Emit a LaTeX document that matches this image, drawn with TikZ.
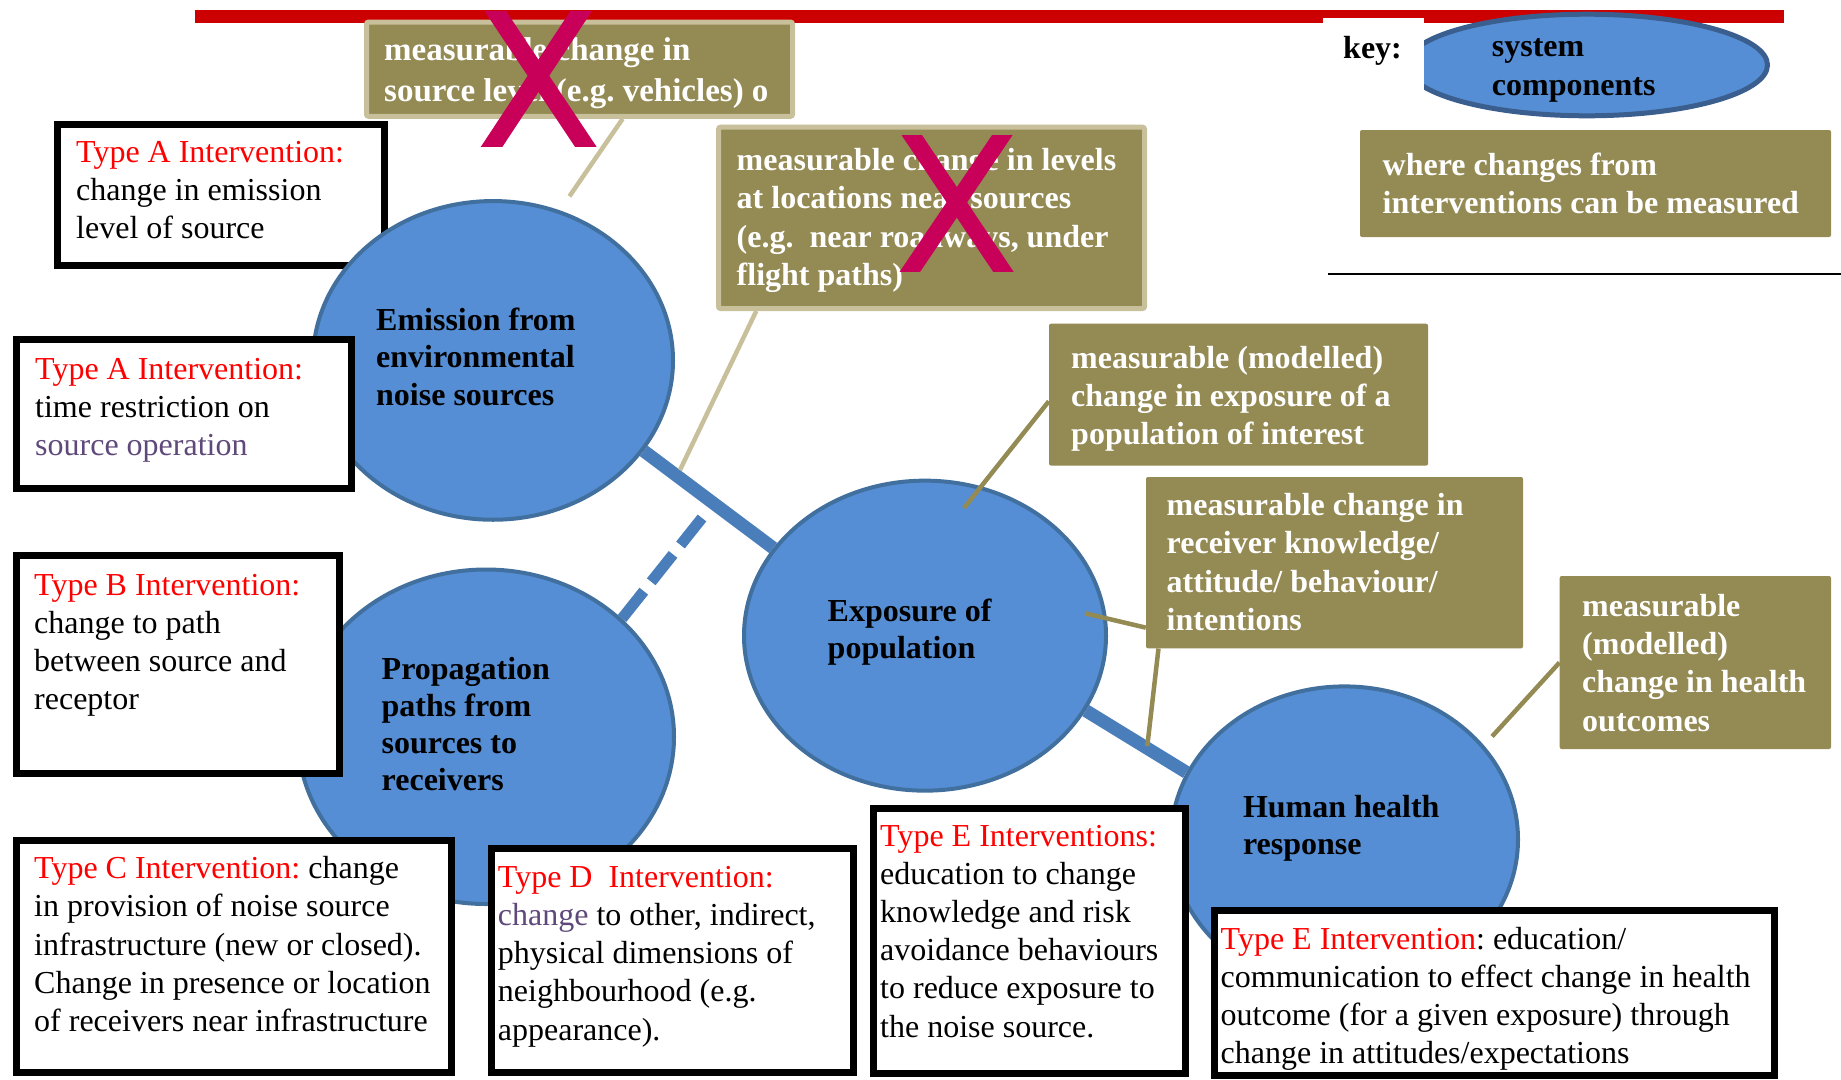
\documentclass[tikz,border=0pt]{standalone}
\usepackage{fontspec}
\setmainfont{Liberation Serif}
\usetikzlibrary{fit,shapes.geometric}
\definecolor{bluef}{HTML}{558ED5}
\definecolor{blueb}{HTML}{41709F}
\definecolor{bluec}{HTML}{4A7EBB}
\definecolor{keyb}{HTML}{3A5F8E}
\definecolor{olivec}{HTML}{948A54}
\definecolor{tanc}{HTML}{C8C09A}
\definecolor{barred}{HTML}{CC0000}
\definecolor{xred}{HTML}{C8005A}
\definecolor{purp}{HTML}{5F497A}
\definecolor{tred}{HTML}{FF0000}
\frenchspacing
\newcommand\mlines[2]{\vtop{\baselineskip=#1\lineskiplimit=-100pt\lineskip=0pt\let\\\cr\halign{##\hfil\cr#2\crcr}}}
\begin{document}
\begin{tikzpicture}[x=1pt,y=-1pt,
  typebox/.style={draw=black, line width=7pt, fill=white, inner sep=0pt},
  olivebox/.style={fill=olivec, inner sep=0pt, rounded corners=2pt},
  olivebd/.style={olivebox, draw=tanc, line width=5pt},
  sysc/.style={ellipse, draw=blueb, line width=4pt, fill=bluef, inner sep=0pt},
  keyell/.style={ellipse, draw=keyb, line width=5pt, fill=bluef, inner sep=0pt},
  tx/.style={anchor=base west, inner sep=0pt, font=\fontsize{32}{38}\selectfont},
  otx/.style={anchor=base west, inner sep=0pt, text=white, font=\fontsize{32}{38}\selectfont\bfseries},
  ctx/.style={anchor=base west, inner sep=0pt, font=\fontsize{32}{37.5}\selectfont\bfseries},
  blink/.style={draw=bluec, line width=13pt},
  leader/.style={line width=4.5pt},
  xmark/.style={draw=xred, line width=18pt}]
\fill[white] (0,0) rectangle (1841,1079);
\useasboundingbox (0,0) rectangle (1841,1079);

% red bar
\fill[barred] (195,10) rectangle (1784,22.5);

% olive boxes at top
\node[olivebd, fit={(366.5,22.1) (792.5,116.3)}] (ob1) {};
\node[olivebd, fit={(718.5,127.2) (1144.5,308.5)}] (ob2) {};
\node[olivebox, fit={(1049,323.7) (1428,465.6)}] (ob3) {};
\node[olivebox, fit={(1146,477) (1523,648.3)}] (ob4) {};
\node[olivebox, fit={(1559.7,576) (1831,749)}] (ob5) {};
\node[olivebox, fit={(1360,130) (1831,237)}] (obk) {};

% key
\node[keyell, minimum width=361pt, minimum height=101.6pt] (keyel) at (1587,65) {};
\fill[white] (1322.7,18.3) rectangle (1424,125);
\node[ctx] (keyt) at (1343,58.3) {key:};
\node[ctx] (keyelt) at (1491.7,56.7) {\mlines{38.3pt}{system\\components}};
\draw[line width=2.5pt] (1328,273.8) -- (1841,273.8);

% Type A box 1 (under emission circle)
\node[typebox, fit={(57.5,124) (384.5,265.5)}] (tA1) {};
\node[tx] (tA1t) at (76,162) {\mlines{38.3pt}{\textcolor{tred}{Type A Intervention:}\\change in emission\\level of source}};

% system components
\node[sysc, minimum width=360pt, minimum height=318.7pt] (emis) at (493,360.4) {};
\node[sysc, minimum width=376pt, minimum height=334.5pt] (prop) at (486,736.75) {};
\node[sysc, minimum width=362pt, minimum height=310pt] (expo) at (925,635.65) {};
\node[sysc, minimum width=347pt, minimum height=306pt] (heal) at (1344.5,839.4) {};

% connectors between components
\coordinate (dashend) at (702,518);
\draw[blink] (emis.-31.55) -- (expo.150.85);
\draw[blink, line width=11pt, dash pattern=on 35pt off 12pt] (prop.41.8) -- (dashend);
\draw[blink] (expo.-25.3) -- (heal.157.27);

% leader lines
\coordinate (l2e) at (680,470);
\coordinate (l3e) at (964,508);
\coordinate (l4a) at (1085,613.3);
\coordinate (l4b) at (1147.3,746);
\draw[leader, draw=tanc, shorten >=17pt] (ob1.-49.5) -- (emis.66);
\draw[leader, draw=tanc] (ob2.-152.1) -- (l2e);
\draw[leader, draw=olivec] (ob3.182.2) -- (l3e);
\draw[leader, draw=olivec] (ob4.199.27) -- (l4a);
\draw[leader, draw=olivec] (ob4.206.4) -- (l4b);
\draw[leader, draw=olivec, shorten >=12pt] (ob5.180) -- (heal.34.1);

% olive box texts
\node[otx, font=\fontsize{33}{41}\selectfont\bfseries] (ob1t) at (384,60.3) {\mlines{41pt}{measurable change in\\source level (e.g. vehicles) o}};
\node[otx] (ob2t) at (736.5,170) {\mlines{38.6pt}{measurable change in levels\\at locations near sources\\(e.g.\ \ near roadways, under\\flight paths)}};
\node[otx] (ob3t) at (1071,368) {\mlines{38.2pt}{measurable (modelled)\\change in exposure of a\\population of interest}};
\node[otx] (ob4t) at (1166.5,515) {\mlines{38.6pt}{measurable change in\\receiver knowledge/\\attitude/ behaviour/\\intentions}};
\node[otx] (ob5t) at (1582,616) {\mlines{38.4pt}{measurable\\(modelled)\\change in health\\outcomes}};
\node[otx] (obkt) at (1382.5,175.6) {\mlines{38pt}{where changes from\\interventions can be measured}};

% intervention boxes
\node[typebox, fit={(16.5,339.5) (351.5,488.5)}] (tA2) {};
\node[tx] (tA2t) at (35,379) {\mlines{38.3pt}{\textcolor{tred}{Type A Intervention:}\\time restriction on\\\textcolor{purp}{source operation}}};
\node[typebox, fit={(16.5,555.5) (339.5,773)}] (tB) {};
\node[tx] (tBt) at (34,595) {\mlines{38pt}{\textcolor{tred}{Type B Intervention:}\\change to path\\between source and\\receptor}};
\node[typebox, fit={(16.5,840.5) (451.5,1072.5)}] (tC) {};
\node[tx] (tCt) at (34,878.6) {\mlines{38.25pt}{\textcolor{tred}{Type C Intervention:} change\\in provision of noise source\\infrastructure (new or closed).\\Change in presence or location\\of receivers near infrastructure}};
\node[typebox, fit={(491.5,848.5) (853.5,1072.5)}] (tD) {};
\node[tx] (tDt) at (497.7,887) {\mlines{38.3pt}{\textcolor{tred}{Type D\ \ Intervention:}\\\textcolor{purp}{change} to other, indirect,\\physical dimensions of\\neighbourhood (e.g.\\appearance).}};
\node[typebox, fit={(873.5,808) (1185.5,1073.5)}] (tE1) {};
\node[tx] (tE1t) at (880,846) {\mlines{38.2pt}{\textcolor{tred}{Type E Interventions:}\\education to change\\knowledge and risk\\avoidance behaviours\\to reduce exposure to\\the noise source.}};
\node[typebox, fit={(1214.5,910) (1774.5,1075.5)}] (tE2) {};
\node[tx] (tE2t) at (1220.5,949) {\mlines{38.3pt}{\textcolor{tred}{Type E Intervention}: education/\\communication to effect change in health\\outcome (for a given exposure) through\\change in attitudes/expectations}};

% component texts
\node[ctx] (emist) at (376,330.6) {\mlines{37.3pt}{Emission from\\environmental\\noise sources}};
\node[ctx] (expot) at (827.5,621) {\mlines{37.5pt}{Exposure of\\population}};
\node[ctx] (propt) at (381.5,679) {\mlines{37.3pt}{Propagation\\paths from\\sources to\\receivers}};
\node[ctx] (healt) at (1242.8,817) {\mlines{37.5pt}{Human health\\response}};

% crosses
\begin{scope}
\clip (470,11.7) rectangle (610,146.7);
\draw[xmark] (477.7,-15.3) -- (603.7,173.7);
\draw[xmark] (598.5,-15.3) -- (473.9,173.7);
\end{scope}
\begin{scope}
\clip (885,135) rectangle (1030,271.7);
\draw[xmark, line width=17pt] (893.4,107.7) -- (1021.6,299);
\draw[xmark, line width=17pt] (1020.8,107.7) -- (891.5,299);
\end{scope}
\end{tikzpicture}
\end{document}
